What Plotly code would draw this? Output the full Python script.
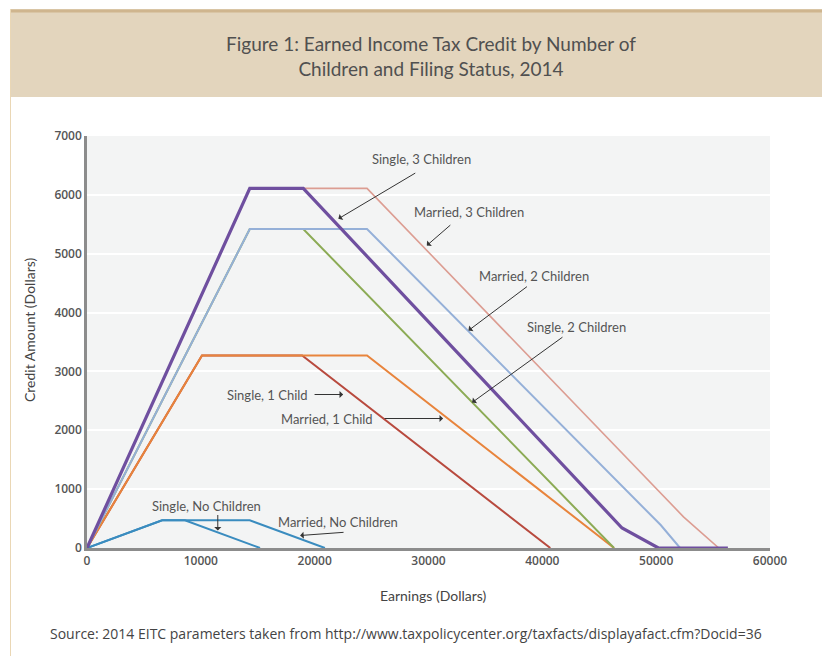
import plotly.graph_objects as go

# ---- data ----
s3_x = [0, 14300, 19000, 47000, 50200, 56300]
s3_y = [0, 6110, 6110, 340, 0, 0]
m3_x = [0, 14300, 24600, 52400, 55500]
m3_y = [0, 6110, 6110, 530, 0]
s2_x = [0, 14300, 19000, 46300]
s2_y = [0, 5420, 5420, 0]
m2_x = [0, 14300, 24600, 50400, 52100]
m2_y = [0, 5420, 5420, 390, 0]
s1_x = [0, 10100, 18900, 40700]
s1_y = [0, 3270, 3270, 0]
m1_x = [0, 10100, 24600, 46300]
m1_y = [0, 3270, 3270, 0]
s0_x = [0, 6600, 8600, 15200]
s0_y = [0, 470, 470, 0]
m0_x = [0, 6600, 14300, 20900]
m0_y = [0, 470, 470, 0]

x_ticks = [0, 10000, 20000, 30000, 40000, 50000, 60000]
y_ticks = [0, 1000, 2000, 3000, 4000, 5000, 6000, 7000]

title_lines = ["Figure 1: Earned Income Tax Credit by Number of",
               "Children and Filing Status, 2014"]
source_text = "Source: 2014 EITC parameters taken from http://www.taxpolicycenter.org/taxfacts/displayafact.cfm?Docid=36"

# label text, text position (x, y), arrow tail (x, y), arrow head (x, y)
labels = [
    ("Single, 3 Children", (29350, 6617), (28970, 6385), (22080, 5593)),
    ("Married, 3 Children", (33570, 5717), (32050, 5508), (29850, 5139)),
    ("Married, 2 Children", (39280, 4613), (38780, 4460), (33510, 3695)),
    ("Single, 2 Children", (42970, 3763), (41900, 3600), (33830, 2472)),
    ("Single, 1 Child", (15820, 2608), (19860, 2608), (22500, 2608)),
    ("Married, 1 Child", (21090, 2200), (26010, 2200), (31280, 2200)),
    ("Single, No Children", (10460, 710), (11490, 586), (11490, 297)),
    ("Married, No Children", (22010, 450), (22670, 268), (18720, 212)),
]

series = [
    (s1_x, s1_y, "#b84a3e", 2),
    (m1_x, m1_y, "#e8843c", 2),
    (s2_x, s2_y, "#8cab55", 2),
    (m2_x, m2_y, "#95b0d8", 2),
    (m3_x, m3_y, "#dc9d92", 1.6),
    (m0_x, m0_y, "#3a8cbf", 2),
    (s0_x, s0_y, "#3a8cbf", 2),
    (s3_x, s3_y, "#6f4f9f", 3.2),
]

fig = go.Figure()
for xs, ys, col, w in series:
    fig.add_trace(go.Scatter(x=xs, y=ys, mode="lines",
                             line=dict(color=col, width=w),
                             hoverinfo="skip", showlegend=False))

ann_font = dict(family="Lato, Open Sans, sans-serif", size=13, color="#555555")
annotations = []
for text, (tx, ty), (ax_, ay_), (hx, hy) in labels:
    annotations.append(dict(x=tx, y=ty, xref="x", yref="y", text=text,
                            showarrow=False, font=ann_font))
    annotations.append(dict(x=hx, y=hy, xref="x", yref="y", ax=ax_, ay=ay_,
                            axref="x", ayref="y", text="", showarrow=True,
                            arrowhead=1, arrowsize=1.2, arrowwidth=1,
                            arrowcolor="#333333"))

# title and texts (paper coords)
annotations.append(dict(x=0.503, y=1.193, xref="paper", yref="paper",
                        text="<br>".join(title_lines), showarrow=False,
                        font=dict(family="Lato, sans-serif", size=19, color="#505050"),
                        align="center", xanchor="center", yanchor="middle"))
annotations.append(dict(x=0.507, y=-0.115, xref="paper", yref="paper",
                        text="Earnings (Dollars)", showarrow=False,
                        font=dict(family="Lato, sans-serif", size=14, color="#444444"),
                        xanchor="center", yanchor="middle"))
annotations.append(dict(x=-0.085, y=0.529, xref="paper", yref="paper",
                        text="Credit Amount (Dollars)", showarrow=False, textangle=-90,
                        font=dict(family="Lato, sans-serif", size=14, color="#444444"),
                        xanchor="center", yanchor="middle"))
annotations.append(dict(x=-0.057, y=-0.207, xref="paper", yref="paper",
                        text=source_text, showarrow=False,
                        font=dict(family="Open Sans, sans-serif", size=14, color="#444444"),
                        xanchor="left", yanchor="middle"))

W, H = 822, 656
L, R, T, B = 87, 52, 136, 108
pw, ph = W - L - R, H - T - B
def px(v):
    return (v - L) / pw
def py(v):
    return (H - B - v) / ph

shapes = [
    dict(type="rect", xref="paper", yref="paper", x0=px(10), x1=px(822),
         y0=py(97), y1=py(9), fillcolor="#e3d5bd", line=dict(width=0), layer="below"),
    dict(type="rect", xref="paper", yref="paper", x0=px(10), x1=px(822),
         y0=py(12.5), y1=py(9.5), fillcolor="#cfb58e", line=dict(width=0), layer="below"),
    dict(type="line", xref="paper", yref="paper", x0=px(10.5), x1=px(10.5),
         y0=py(656), y1=py(9), line=dict(color="#ead7b5", width=1), layer="below"),
]

tick_font = dict(family="Open Sans, sans-serif", size=12, color="#555555", weight=600)

fig.update_layout(
    width=W, height=H,
    margin=dict(l=L, r=R, t=T, b=B),
    paper_bgcolor="white",
    plot_bgcolor="#f3f4f4",
    showlegend=False,
    annotations=annotations,
    shapes=shapes,
    xaxis=dict(range=[0, 60000], tickvals=x_ticks, ticktext=[str(v) for v in x_ticks],
               showgrid=False, zeroline=False, showline=True, linecolor="#8c8c8c",
               linewidth=2.5, ticks="", tickfont=tick_font),
    yaxis=dict(range=[0, 7000], tickvals=y_ticks, ticktext=[str(v) for v in y_ticks],
               showgrid=True, gridcolor="#ffffff", gridwidth=1.5, zeroline=False,
               showline=True, linecolor="#8c8c8c", linewidth=2.5, ticks="",
               tickfont=tick_font),
)

fig.write_html("out.html", config={"displayModeBar": False},
               post_script="document.body.style.margin='0';document.body.style.overflow='hidden';")
